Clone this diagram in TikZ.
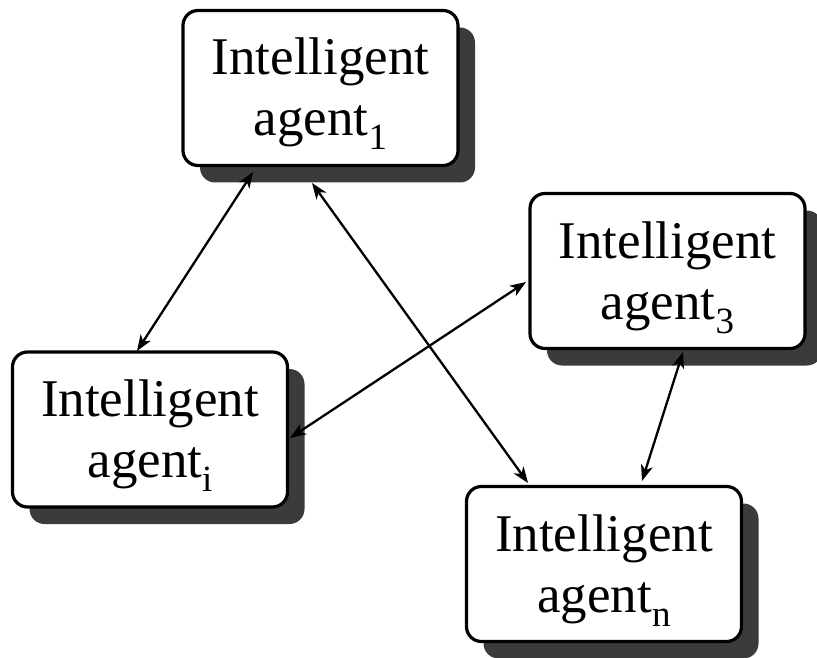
\documentclass[tikz,border=0pt]{standalone}
\usepackage{fontspec}
\setmainfont{Liberation Serif}
\usetikzlibrary{shadows,arrows.meta}

% lowered, smaller index after "agent"
\newcommand{\agidx}[1]{\raisebox{-14pt}{\fontsize{37}{37}\selectfont #1}}
% invisible struts that place the two text lines inside the box
\newcommand{\topstrut}{\rule{0pt}{50pt}}
\newcommand{\botstrut}{\rule[-15pt]{0pt}{0pt}}

\begin{document}
\begin{tikzpicture}[x=1pt,y=-1pt,
  agentbox/.style={draw=black, line width=3.2pt, fill=white,
    rounded corners=15pt, minimum width=275pt, minimum height=155pt,
    inner sep=0pt, outer sep=0pt, align=center,
    font=\fontsize{53}{61}\selectfont,
    drop shadow={shadow xshift=17pt, shadow yshift=-17pt,
      fill=black!77, opacity=1}},
  link/.style={line width=2.3pt,
    {Stealth[length=16pt,width=12pt,inset=4.5pt]}-{Stealth[length=16pt,width=12pt,inset=4.5pt]}}
]
\useasboundingbox (0,0) rectangle (817,658);

\node[agentbox] (a1) at (320.5,88)   {\topstrut Intelligent\\ agent\agidx{1}\botstrut};
\node[agentbox] (a3) at (667.5,271)  {\topstrut Intelligent\\ agent\agidx{3}\botstrut};
\node[agentbox] (ai) at (150,429.5)  {\topstrut Intelligent\\ agent\agidx{i}\botstrut};
\node[agentbox] (an) at (604,564)    {\topstrut Intelligent\\ agent\agidx{n}\botstrut};

% communication links between the agents
\draw[link] ([xshift=-67.5pt,yshift=-6.5pt]a1.south) -- ([xshift=-13pt,yshift=1pt]ai.north);
\draw[link] ([xshift=-8.5pt,yshift=-17.5pt]a1.south) -- ([xshift=-76pt,yshift=3.5pt]an.north);
\draw[link] ([xshift=2.5pt,yshift=-8.5pt]ai.east) -- ([xshift=-4pt,yshift=-11pt]a3.west);
\draw[link] ([xshift=15.5pt,yshift=-3.5pt]a3.south) -- ([xshift=38pt,yshift=5.5pt]an.north);
\end{tikzpicture}
\end{document}
